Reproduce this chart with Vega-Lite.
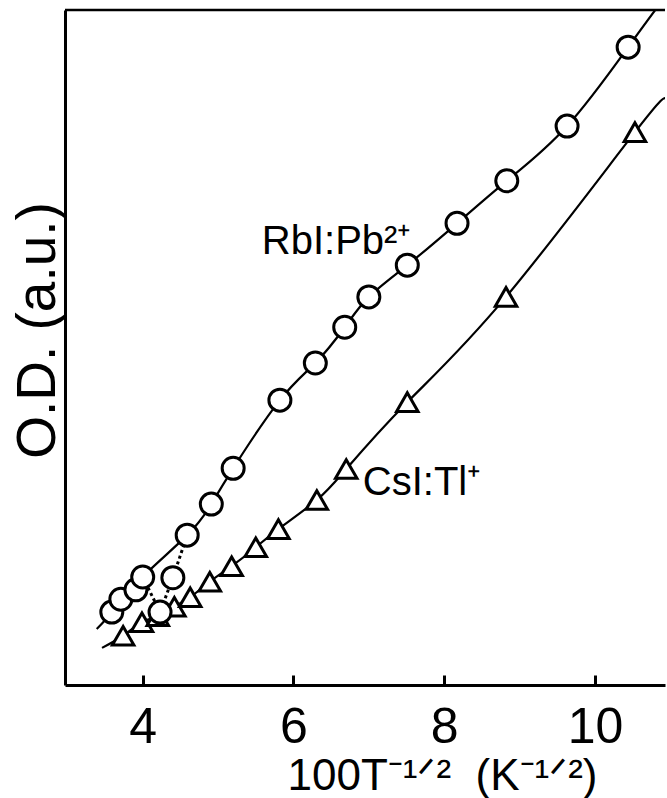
{
  "$schema": "https://vega.github.io/schema/vega-lite/v6.json",
  "width": 600,
  "height": 675,
  "autosize": {"type": "none"},
  "padding": {"left": 65, "top": 10, "right": 2, "bottom": 113},
  "background": "white",
  "config": {"view": {"stroke": null}},
  "datasets": {
    "rbi_curve": [
      {"x": 3.39, "y": 8.3}, {"x": 3.59, "y": 10.8}, {"x": 3.71, "y": 12.7}, {"x": 3.91, "y": 14.1},
      {"x": 4.0, "y": 16.0}, {"x": 4.59, "y": 22.2}, {"x": 4.91, "y": 26.8}, {"x": 5.2, "y": 32.1},
      {"x": 5.82, "y": 42.2}, {"x": 6.29, "y": 47.7}, {"x": 6.68, "y": 53.0}, {"x": 7.0, "y": 57.5},
      {"x": 7.51, "y": 62.2}, {"x": 8.17, "y": 68.4}, {"x": 8.83, "y": 74.7}, {"x": 9.63, "y": 82.8},
      {"x": 10.44, "y": 94.5}, {"x": 10.8, "y": 100}
    ],
    "rbi_dotted": [
      {"x": 4.0, "y": 16.0}, {"x": 4.23, "y": 10.8}, {"x": 4.4, "y": 15.9}, {"x": 4.59, "y": 22.2}
    ],
    "rbi_points": [
      {"x": 3.59, "y": 10.8}, {"x": 3.71, "y": 12.7}, {"x": 3.91, "y": 14.1}, {"x": 4.0, "y": 16.0},
      {"x": 4.23, "y": 10.8}, {"x": 4.4, "y": 15.9},
      {"x": 4.59, "y": 22.2}, {"x": 4.91, "y": 26.8}, {"x": 5.2, "y": 32.1}, {"x": 5.82, "y": 42.2},
      {"x": 6.29, "y": 47.7}, {"x": 6.68, "y": 53.0}, {"x": 7.0, "y": 57.5}, {"x": 7.51, "y": 62.2},
      {"x": 8.17, "y": 68.4}, {"x": 8.83, "y": 74.7}, {"x": 9.63, "y": 82.8}, {"x": 10.44, "y": 94.5}
    ],
    "csi_curve": [
      {"x": 3.46, "y": 5.5}, {"x": 3.74, "y": 7.3}, {"x": 3.99, "y": 9.3}, {"x": 4.2, "y": 10.2},
      {"x": 4.42, "y": 11.6}, {"x": 4.63, "y": 13.0}, {"x": 4.89, "y": 15.3}, {"x": 5.18, "y": 17.6},
      {"x": 5.5, "y": 20.4}, {"x": 5.8, "y": 23.1}, {"x": 6.31, "y": 27.4}, {"x": 6.7, "y": 32.0},
      {"x": 7.51, "y": 41.9}, {"x": 8.82, "y": 57.5}, {"x": 10.53, "y": 81.9}, {"x": 10.93, "y": 86.8}
    ],
    "csi_points": [
      {"x": 3.74, "y": 7.3}, {"x": 3.99, "y": 9.3}, {"x": 4.2, "y": 10.2},
      {"x": 4.42, "y": 11.6}, {"x": 4.63, "y": 13.0}, {"x": 4.89, "y": 15.3}, {"x": 5.18, "y": 17.6},
      {"x": 5.5, "y": 20.4}, {"x": 5.8, "y": 23.1}, {"x": 6.31, "y": 27.4}, {"x": 6.7, "y": 32.0},
      {"x": 7.51, "y": 41.9}, {"x": 8.82, "y": 57.5}, {"x": 10.53, "y": 81.9}
    ],
    "labels": [
      {"text": "RbI:Pb²⁺", "x": 5.58, "y": 63.9},
      {"text": "CsI:Tl⁺", "x": 6.92, "y": 28.1}
    ]
  },
  "layer": [
    {
      "data": {"name": "rbi_curve"},
      "mark": {"type": "line", "interpolate": "natural", "color": "black", "strokeWidth": 2.2, "clip": true},
      "encoding": {
        "x": {
          "field": "x", "type": "quantitative",
          "scale": {"domain": [2.969, 10.929], "nice": false, "zero": false},
          "axis": {
            "values": [4, 6, 8, 10],
            "format": "d",
            "grid": false,
            "domainWidth": 3, "domainColor": "black",
            "tickSize": -10, "tickWidth": 3, "tickColor": "black",
            "labelFont": "Liberation Sans", "labelFontSize": 50, "labelColor": "black",
            "labelBaseline": "alphabetic", "labelPadding": 67,
            "title": "100T⁻¹ᐟ²\u00a0\u00a0(K⁻¹ᐟ²)",
            "titleFont": "Liberation Sans", "titleFontSize": 44, "titleFontWeight": "normal",
            "titleColor": "black", "titleX": 377, "titleY": 104, "titleAlign": "center",
            "titleBaseline": "alphabetic"
          }
        },
        "y": {
          "field": "y", "type": "quantitative",
          "scale": {"domain": [0, 100], "nice": false, "zero": false},
          "axis": {
            "grid": false, "ticks": false, "labels": false,
            "domainWidth": 3, "domainColor": "black",
            "title": "O.D. (a.u.)",
            "titleFont": "Liberation Sans", "titleFontSize": 55, "titleFontWeight": "normal",
            "titleColor": "black", "titleX": -11, "titleY": 320, "titleAngle": 270,
            "titleAlign": "center", "titleBaseline": "alphabetic"
          }
        }
      }
    },
    {
      "data": {"name": "csi_curve"},
      "mark": {"type": "line", "interpolate": "natural", "color": "black", "strokeWidth": 2.2, "clip": true},
      "encoding": {
        "x": {"field": "x", "type": "quantitative"},
        "y": {"field": "y", "type": "quantitative"}
      }
    },
    {
      "data": {"name": "rbi_dotted"},
      "mark": {"type": "line", "color": "black", "strokeWidth": 3, "strokeDash": [3, 3]},
      "encoding": {
        "x": {"field": "x", "type": "quantitative"},
        "y": {"field": "y", "type": "quantitative"}
      }
    },
    {
      "data": {"values": [{}]},
      "mark": {"type": "rule", "color": "black", "strokeWidth": 2.5},
      "encoding": {"y": {"datum": 100}}
    },
    {
      "data": {"name": "csi_points"},
      "mark": {"type": "point", "shape": "triangle-up", "size": 462, "filled": false, "fill": "white", "fillOpacity": 1, "stroke": "black", "strokeWidth": 3, "opacity": 1},
      "encoding": {
        "x": {"field": "x", "type": "quantitative"},
        "y": {"field": "y", "type": "quantitative"}
      }
    },
    {
      "data": {"name": "rbi_points"},
      "mark": {"type": "point", "shape": "circle", "size": 484, "filled": false, "fill": "white", "fillOpacity": 1, "stroke": "black", "strokeWidth": 3, "opacity": 1},
      "encoding": {
        "x": {"field": "x", "type": "quantitative"},
        "y": {"field": "y", "type": "quantitative"}
      }
    },
    {
      "data": {"name": "labels"},
      "mark": {"type": "text", "font": "Liberation Sans", "fontSize": 40, "align": "left", "baseline": "alphabetic", "color": "black"},
      "encoding": {
        "x": {"field": "x", "type": "quantitative"},
        "y": {"field": "y", "type": "quantitative"},
        "text": {"field": "text"}
      }
    }
  ]
}
